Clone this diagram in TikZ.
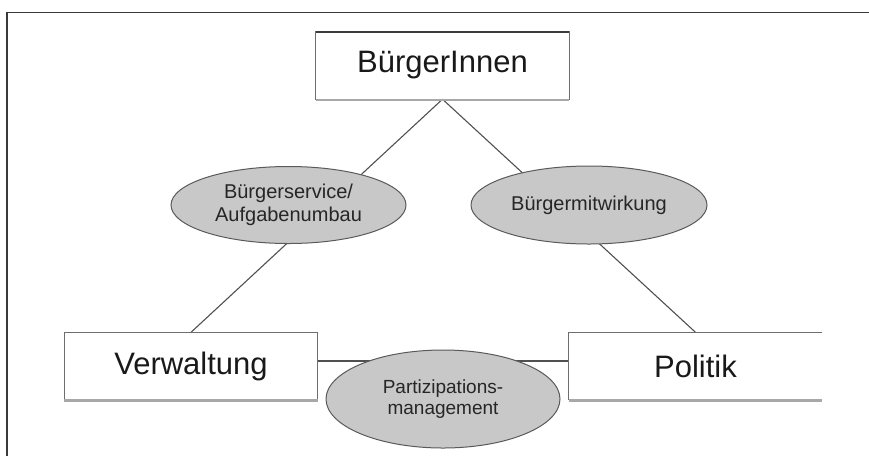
\documentclass[tikz,border=0pt]{standalone}
\usepackage{fontspec}
\setmainfont{Liberation Sans}
\usetikzlibrary{shapes.geometric,backgrounds}
\definecolor{ellfill}{HTML}{C8C8C8}
\definecolor{ellline}{HTML}{5A5A5A}
\definecolor{conn}{HTML}{505050}
\definecolor{boxline}{HTML}{6E6E6E}
\definecolor{shadowc}{HTML}{A8A8A8}
\definecolor{framec}{HTML}{3A3A3A}
\begin{document}
\begin{tikzpicture}[x=1pt,y=-1pt,
  boxnode/.style={rectangle, minimum width=253pt, minimum height=67pt, inner sep=0pt,
    font=\fontsize{31}{31}\selectfont, text=black!90},
  ellnode/.style={ellipse, draw=ellline, line width=1pt, fill=ellfill, inner sep=0pt,
    align=center, text=black!85, font=\fontsize{20}{23}\selectfont},
  connline/.style={draw=conn, line width=1.1pt},
  boxedge/.style={draw=boxline, line width=1pt},
  boxshadow/.style={draw=shadowc, line width=2.6pt},
]
\useasboundingbox (0,0) rectangle (869,456);
% frame
\draw[framec, line width=1.5pt] (7,456) -- (7,12.7) -- (869,12.7);
% boxes
\node[boxnode] (B) at (442.5,65.5) {BürgerInnen};
\node[boxnode] (V) at (191,366) {Verwaltung};
\node[boxnode] (P) at (695.5,366) {Politik};
\draw[boxedge] (B.south west) rectangle (B.north east);
\draw[framec, line width=1.7pt] (B.north west) -- (B.north east);
\draw[boxshadow] ([yshift=-0.8pt]B.south west) -- ([yshift=-0.8pt]B.south east);
\draw[boxedge] (V.south west) rectangle (V.north east);
\draw[boxshadow] ([yshift=-0.8pt]V.south west) -- ([yshift=-0.8pt]V.south east);
\draw[boxedge] (P.north east) -- (P.north west) -- (P.south west) -- (P.south east);
\draw[boxshadow] ([yshift=-0.8pt]P.south west) -- ([yshift=-0.8pt]P.south east);
% ellipses
\node[ellnode, minimum width=235pt, minimum height=77pt] (E1) at (288.5,205) {Bürgerservice/\\Aufgabenumbau};
\node[ellnode, minimum width=236pt, minimum height=78pt] (E2) at (589,205) {Bürgermitwirkung};
\node[ellnode, minimum width=234pt, minimum height=98pt, font=\fontsize{19}{21}\selectfont] (E3) at (443,399) {Partizipations-\\management};
% connectors
\begin{scope}[on background layer]
\draw[connline] (B.south) -- (V.north);
\draw[connline] (B.south) -- (P.north);
\draw[connline] ([yshift=5pt]V.east) -- ([yshift=5pt]P.west);
\end{scope}
\end{tikzpicture}
\end{document}
